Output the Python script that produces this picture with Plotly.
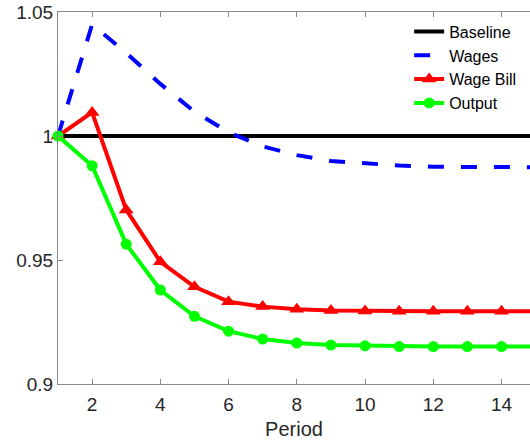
import plotly.graph_objects as go

periods = list(range(1, 16))
baseline = [1.0] * 15
wages = [1.0, 1.045, 1.0335, 1.021, 1.0098, 1.0015, 0.9958, 0.9923, 0.9899,
         0.9889, 0.9881, 0.9876, 0.9875, 0.9874, 0.9874]
wage_bill = [1.0, 1.0095, 0.9702, 0.9493, 0.9392, 0.9332, 0.9312, 0.9301,
             0.9296, 0.9294, 0.9293, 0.9293, 0.9293, 0.9293, 0.9293]
output = [1.0, 0.9880, 0.9564, 0.9379, 0.9273, 0.9213, 0.9181, 0.9165,
          0.9157, 0.9154, 0.9151, 0.9151, 0.9151, 0.9151, 0.9151]
x_ticks = [2, 4, 6, 8, 10, 12, 14]
y_ticks = [0.9, 0.95, 1.0, 1.05]

fig = go.Figure()
fig.add_trace(go.Scatter(x=periods, y=baseline, name="Baseline", mode="lines",
                         line=dict(color="black", width=4)))
fig.add_trace(go.Scatter(x=periods, y=wages, name="Wages", mode="lines",
                         line=dict(color="#0000ff", width=4, dash="16px,17px")))
fig.add_trace(go.Scatter(x=periods, y=wage_bill, name="Wage Bill", mode="lines+markers",
                         line=dict(color="#ff0000", width=4),
                         marker=dict(symbol="triangle-up", size=13, color="#ff0000"),
                         cliponaxis=False))
fig.add_trace(go.Scatter(x=periods, y=output, name="Output", mode="lines+markers",
                         line=dict(color="#00ff00", width=4),
                         marker=dict(symbol="circle", size=11, color="#00ff00"),
                         cliponaxis=False))

axis_common = dict(showgrid=False, zeroline=False, showline=True, linecolor="#8a8a8a",
                   linewidth=1, ticks="inside", ticklen=5, tickcolor="#8a8a8a",
                   automargin=False,
                   tickfont=dict(family="Liberation Sans, Arial", size=19, color="#262626"))

fig.update_xaxes(range=[1, 14.835], tickvals=x_ticks, mirror="ticks", ticklabelstandoff=3,
                 title=dict(text="Period", font=dict(family="Liberation Sans, Arial", size=20,
                                                     color="#262626"), standoff=8),
                 **axis_common)
fig.update_yaxes(range=[0.9, 1.05], tickvals=y_ticks, mirror=False, ticklabelstandoff=0,
                 **axis_common)

fig.update_layout(
    width=530, height=443,
    margin=dict(l=58, r=0, t=12, b=59, autoexpand=False),
    paper_bgcolor="white", plot_bgcolor="white",
    legend=dict(x=0.744, y=0.993, xanchor="left", yanchor="top",
                bgcolor="rgba(255,255,255,0)", borderwidth=0,
                font=dict(family="Liberation Sans, Arial", size=16, color="black")),
)

# remove the browser's default 8px body margin so the figure sits at the window origin
fig.write_html("out.html", config={"displayModeBar": False},
               post_script="document.body.style.margin='0';document.body.style.overflow='hidden';")
